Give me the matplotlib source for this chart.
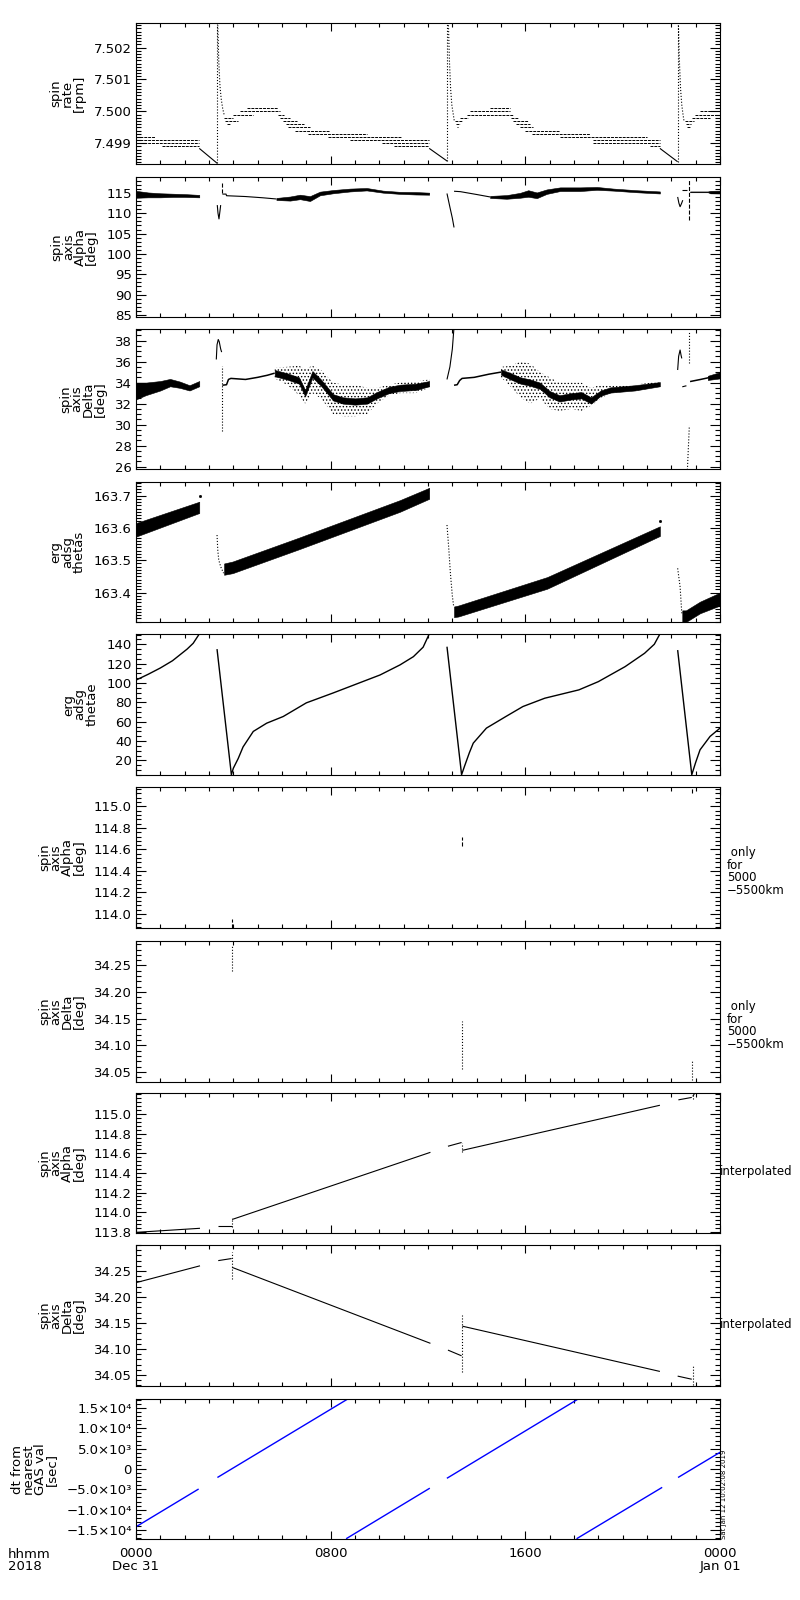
import matplotlib
matplotlib.use("Agg")
import matplotlib.pyplot as plt
from matplotlib.ticker import MultipleLocator, FixedLocator, FormatStrFormatter, FixedFormatter

plt.rcParams['font.family'] = ['DejaVu Sans']
plt.rcParams['hatch.linewidth'] = 0.6

# ---------------- axis texts ----------------
x_ticks = [0, 8, 16, 24]
x_ticklabels = ["0000\nDec 31", "0800", "1600", "0000\nJan 01"]
x_corner_label = "hhmm\n2018"
timestamp = "Sat Jan 12 10:02:08 2019"

ylabels = ["spin\nrate\n[rpm]", "spin\naxis\nAlpha\n[deg]", "spin\naxis\nDelta\n[deg]",
           "erg\nadsg\nthetas", "erg\nadsg\nthetae", "spin\naxis\nAlpha\n[deg]",
           "spin\naxis\nDelta\n[deg]", "spin\naxis\nAlpha\n[deg]", "spin\naxis\nDelta\n[deg]",
           "dt from\nnearest\nGAS val\n[sec]"]
right_notes = ["", "", "", "", "", " only\nfor\n5000\n\u22125500km", " only\nfor\n5000\n\u22125500km",
               "interpolated", "interpolated", ""]

# ---------------- panel 1: spin rate [rpm] (quantised levels, hours) ----------------
rate_lvl_t0 = [0.00, 0.00, 0.00, 1.05, 3.61, 3.65, 3.72, 4.00, 4.27, 4.55, 5.85, 5.92, 6.05, 6.15, 6.26,
               6.53, 7.08, 7.90, 8.79, 10.10, 10.60,
               13.10, 13.14, 13.18, 13.30, 13.60, 13.73, 14.55, 15.40, 15.50, 15.60, 15.78, 16.00, 16.26,
               17.43, 18.80, 18.80, 21.12,
               22.55, 22.60, 22.65, 22.85, 22.97, 23.18]
rate_lvl_t1 = [0.78, 2.60, 2.60, 2.60, 4.00, 4.20, 3.86, 4.82, 5.92, 5.85, 6.10, 6.33, 6.60, 6.90, 7.15,
               7.97, 9.48, 10.90, 12.05, 12.05, 12.05,
               13.38, 13.30, 13.25, 13.66, 15.51, 15.37, 15.37, 15.70, 16.10, 16.20, 16.33, 17.43, 18.66,
               20.99, 21.53, 21.53, 21.53,
               22.95, 22.80, 22.75, 23.60, 24.00, 24.00]
rate_lvl_v = [7.4992, 7.4991, 7.4990, 7.4989, 7.4998, 7.4997, 7.4996, 7.4999, 7.5000, 7.5001, 7.4999,
              7.4998, 7.4997, 7.4996, 7.4995, 7.4994, 7.4993, 7.4992, 7.4991, 7.4990, 7.4989,
              7.4997, 7.4996, 7.4995, 7.4998, 7.4999, 7.5000, 7.5001, 7.4998, 7.4997, 7.4996, 7.4995,
              7.4994, 7.4993, 7.4992, 7.4991, 7.4990, 7.4989,
              7.4997, 7.4996, 7.4995, 7.4998, 7.4999, 7.5000]
rate_dec_t = [[2.60, 3.34], [12.05, 12.79], [21.53, 22.26]]
rate_dec_v = [[7.49884, 7.49837], [7.49884, 7.49844], [7.49884, 7.49842]]
rate_spike_t = [3.34, 12.79, 22.26]
rate_spike_lo = [7.49837, 7.49844, 7.49842]
rate_spike_hi = [7.50275, 7.50275, 7.50275]
rate_decay_t = [[3.36, 3.40, 3.45, 3.50, 3.56, 3.62],
                [12.84, 12.88, 12.93, 12.98, 13.04, 13.08],
                [22.29, 22.33, 22.38, 22.43, 22.48, 22.52]]
rate_decay_v = [[7.50270, 7.50160, 7.50080, 7.50040, 7.50010, 7.49990],
                [7.50270, 7.50160, 7.50070, 7.50020, 7.49990, 7.49970],
                [7.50270, 7.50160, 7.50070, 7.50020, 7.49990, 7.49970]]

# ---------------- panel 2: spin axis Alpha [deg] ----------------
alp_b1_t = [0.0, 0.5, 1.0, 1.5, 2.0, 2.6]
alp_b1_lo = [113.8, 113.9, 113.9, 114.0, 114.0, 113.9]
alp_b1_hi = [115.5, 115.1, 114.9, 114.8, 114.7, 114.5]
alp_v1_t = [3.34, 3.37, 3.41, 3.45, 3.48]
alp_v1_v = [112.0, 110.0, 108.6, 110.5, 112.0]
alp_l1_t = [3.55, 3.70, 3.72, 4.5, 5.2, 5.77]
alp_l1_v = [114.7, 114.7, 114.3, 114.1, 113.8, 113.5]
alp_b2_t = [5.77, 6.33, 6.74, 7.15, 7.56, 8.1, 8.8, 9.48, 10.15, 10.85, 11.5, 12.05]
alp_b2_lo = [113.25, 113.1, 113.45, 113.0, 114.4, 114.9, 115.35, 115.6, 115.05, 114.75, 114.6, 114.55]
alp_b2_hi = [113.75, 114.1, 114.55, 114.2, 115.3, 115.7, 116.05, 116.2, 115.55, 115.25, 115.2, 115.05]
alp_f2_t = [12.78, 12.90, 13.00, 13.07]
alp_f2_v = [114.85, 111.5, 108.8, 106.5]
alp_l2_t = [13.07, 13.33, 14.0, 14.55]
alp_l2_v = [115.4, 115.3, 114.6, 114.0]
alp_b3_t = [14.55, 15.23, 15.78, 16.12, 16.47, 16.88, 17.43, 18.25, 18.94, 19.62, 20.58, 21.53]
alp_b3_lo = [113.75, 113.55, 113.8, 114.05, 113.7, 114.75, 115.45, 115.45, 115.75, 115.55, 115.15, 114.85]
alp_b3_hi = [114.25, 114.45, 115.0, 115.65, 115.1, 115.85, 116.35, 116.35, 116.45, 116.05, 115.65, 115.35]
alp_v3_t = [22.26, 22.31, 22.36, 22.42, 22.47]
alp_v3_v = [114.0, 112.5, 111.6, 112.4, 113.2]
alp_s3_t = [22.43, 22.66]
alp_s3_v = [115.8, 115.8]
alp_b4_t = [22.77, 23.5, 23.6, 24.0]
alp_b4_lo = [115.15, 115.15, 114.9, 114.85]
alp_b4_hi = [115.35, 115.35, 115.5, 115.55]
alp_vert_t = [3.55, 22.73]
alp_vert_lo = [114.9, 108.3]
alp_vert_hi = [117.5, 118.5]

# ---------------- panel 3: spin axis Delta [deg] ----------------
del_b1_t = [0.0, 0.4, 1.0, 1.4, 1.8, 2.2, 2.6]
del_b1_lo = [32.4, 32.8, 33.25, 33.65, 33.5, 33.25, 33.65]
del_b1_hi = [34.0, 34.0, 34.15, 34.35, 34.1, 33.75, 34.15]
del_p1_t = [3.30, 3.33, 3.38, 3.42, 3.48, 3.52]
del_p1_v = [36.2, 37.6, 38.1, 37.9, 37.2, 36.9]
del_l1_t = [3.55, 3.72, 3.80, 3.90, 4.5, 5.0, 5.4, 5.7]
del_l1_v = [33.75, 33.8, 34.3, 34.4, 34.3, 34.5, 34.7, 34.9]
del_n1_t = [5.7, 6.2, 6.7, 6.95, 7.25, 7.6, 8.1, 8.5, 9.0, 9.5, 9.9, 10.4, 10.85, 11.5, 12.05]
del_n1_lo = [34.6, 34.3, 33.9, 32.7, 34.5, 33.7, 32.3, 32.0, 31.9, 32.0, 32.5, 33.0, 33.2, 33.3, 33.65]
del_n1_hi = [35.2, 34.9, 34.5, 33.3, 35.1, 34.3, 32.9, 32.6, 32.5, 32.6, 33.1, 33.6, 33.8, 33.9, 34.15]
del_s1_lo = [34.4, 33.8, 32.8, 32.0, 33.0, 32.5, 31.0, 30.8, 30.8, 31.0, 32.0, 32.8, 33.0, 33.0, 33.5]
del_s1_hi = [35.4, 35.5, 35.6, 35.3, 35.6, 35.2, 34.0, 33.8, 33.8, 33.5, 33.5, 33.8, 34.0, 34.1, 34.3]
del_r2_t = [12.78, 12.9, 13.0, 13.07]
del_r2_v = [34.3, 35.5, 37.2, 39.3]
del_l2_t = [13.07, 13.2, 13.3, 13.4, 13.9, 14.5, 15.0]
del_l2_v = [33.75, 33.8, 34.2, 34.4, 34.5, 34.8, 35.0]
del_n2_t = [15.0, 15.4, 15.8, 16.2, 16.6, 17.0, 17.4, 17.9, 18.3, 18.7, 19.1, 19.5, 20.5, 21.53]
del_n2_lo = [34.75, 34.3, 33.9, 33.7, 33.4, 32.6, 32.2, 32.4, 32.5, 32.0, 32.75, 33.05, 33.25, 33.65]
del_n2_hi = [35.25, 34.9, 34.5, 34.3, 34.0, 33.2, 32.8, 33.0, 33.1, 32.6, 33.25, 33.55, 33.75, 34.05]
del_s2_lo = [34.5, 33.6, 32.6, 32.0, 32.5, 31.5, 31.3, 31.5, 31.3, 31.8, 32.5, 33.0, 33.2, 33.6]
del_s2_hi = [35.5, 35.6, 36.0, 35.8, 35.0, 34.5, 34.0, 34.0, 34.0, 33.5, 33.8, 33.7, 33.8, 34.1]
del_p3_t = [22.26, 22.30, 22.36, 22.40, 22.43]
del_p3_v = [35.2, 36.5, 37.1, 36.6, 36.3]
del_s3_t = [22.45, 22.62]
del_s3_v = [33.6, 33.7]
del_r3_t = [22.66, 22.74]
del_r3_v = [25.7, 29.9]
del_l3_t = [22.77, 23.2, 23.6, 24.0]
del_l3_v = [34.1, 34.3, 34.5, 34.7]
del_b3_t = [23.5, 24.0]
del_b3_lo = [34.25, 34.4]
del_b3_hi = [34.65, 35.0]
del_vert_t = [3.55, 22.73]
del_vert_lo = [29.4, 35.9]
del_vert_hi = [35.6, 38.8]

# ---------------- panel 4: erg adsg thetas ----------------
ths_b1_t = [0.0, 2.6]
ths_b1_lo = [163.573, 163.646]
ths_b1_hi = [163.615, 163.681]
ths_dot_t = [2.62, 21.55]
ths_dot_v = [163.700, 163.620]
ths_d1_t = [3.33, 3.36, 3.40, 3.48, 3.60]
ths_d1_v = [163.578, 163.532, 163.501, 163.480, 163.460]
ths_b2_t = [3.62, 3.97, 6.7, 10.85, 12.05]
ths_b2_lo = [163.455, 163.460, 163.534, 163.650, 163.690]
ths_b2_hi = [163.490, 163.496, 163.570, 163.686, 163.724]
ths_d2_t = [12.78, 12.85, 12.92, 13.0, 13.05]
ths_d2_v = [163.609, 163.540, 163.460, 163.390, 163.360]
ths_b3_t = [13.07, 13.25, 16.9, 21.53]
ths_b3_lo = [163.324, 163.326, 163.412, 163.575]
ths_b3_hi = [163.357, 163.360, 163.448, 163.605]
ths_d3_t = [22.26, 22.36, 22.43]
ths_d3_v = [163.475, 163.418, 163.336]
ths_b4_t = [22.45, 22.6, 23.18, 24.0]
ths_b4_lo = [163.310, 163.309, 163.336, 163.360]
ths_b4_hi = [163.345, 163.345, 163.372, 163.400]

# ---------------- panel 5: erg adsg thetae ----------------
the_o1a_t = [0.0, 0.5, 1.0, 1.5, 1.8, 2.1, 2.35, 2.6]
the_o1a_v = [103.0, 109.0, 115.5, 123.0, 129.0, 135.0, 141.0, 150.6]
the_o1b_t = [3.33, 3.92, 4.0, 4.2, 4.4, 4.82, 5.37, 6.05, 7.0, 8.1, 9.5, 10.03, 10.85, 11.4, 11.8, 12.05]
the_o1b_v = [135.0, 5.3, 12.0, 22.0, 34.0, 50.0, 58.5, 65.4, 79.5, 89.7, 103.2, 108.3, 118.7, 127.2, 137.0, 150.6]
the_o2_t = [12.78, 13.38, 13.5, 13.7, 13.86, 14.4, 15.2, 15.9, 16.8, 18.2, 19.0, 20.1, 20.9, 21.3, 21.53]
the_o2_v = [137.5, 5.3, 14.0, 28.0, 37.9, 53.4, 65.4, 75.7, 84.3, 92.9, 101.4, 116.9, 130.7, 140.0, 150.6]
the_o3_t = [22.26, 22.84, 23.0, 23.18, 23.59, 24.0]
the_o3_v = [134.0, 5.3, 18.0, 31.0, 44.8, 53.4]

# ---------------- panels 6/7: only for 5000-5500 km ----------------
alp_only_t = [3.95, 13.40, 22.86]
alp_only_lo = [113.87, 114.63, 115.12]
alp_only_hi = [113.95, 114.72, 115.17]
del_only_t = [3.95, 13.40, 22.86]
del_only_lo = [34.239, 34.055, 34.035]
del_only_hi = [34.288, 34.145, 34.070]

# ---------------- panels 8/9: interpolated ----------------
alp_int_t = [[0.03, 2.63], [3.38, 3.93], [3.95, 12.10], [12.82, 13.38], [13.41, 21.53], [22.29, 22.84], [22.88, 23.0]]
alp_int_v = [[113.794, 113.835], [113.858, 113.858], [113.925, 114.61], [114.672, 114.71],
             [114.63, 115.09], [115.145, 115.17], [115.18, 115.23]]
alp_int_jt = [3.95, 13.41, 22.88]
alp_int_jlo = [113.85, 114.61, 115.15]
alp_int_jhi = [113.935, 114.71, 115.23]
del_int_t = [[0.03, 2.63], [3.38, 3.93], [3.95, 12.10], [12.82, 13.38], [13.41, 21.53], [22.26, 22.84]]
del_int_v = [[34.228, 34.26], [34.27, 34.274], [34.257, 34.111], [34.098, 34.087],
             [34.144, 34.057], [34.048, 34.042]]
del_int_jt = [3.95, 13.41, 22.87]
del_int_jlo = [34.235, 34.056, 34.031]
del_int_jhi = [34.287, 34.165, 34.070]

# ---------------- panel 10: dt from nearest GAS val [sec] ----------------
dt_t = [[0.0, 2.55], [3.37, 8.66], [8.66, 12.05], [12.80, 18.13], [18.13, 21.60], [22.30, 24.0]]
dt_v = [[-14200, -5000], [-2000, 17050], [-17050, -4800], [-2200, 17050], [-17050, -4600], [-2000, 4100]]
dt_ticks = [-15000, -10000, -5000, 0, 5000, 10000, 15000]
dt_ticklabels = ["\u22121.5\u00d710\u2074", "\u22121.0\u00d710\u2074", "\u22125.0\u00d710\u00b3", "0",
                 "5.0\u00d710\u00b3", "1.0\u00d710\u2074", "1.5\u00d710\u2074"]

# ---------------- layout ----------------
W, H = 800.0, 1600.0
tops = [23, 177, 329, 482, 634, 787, 941, 1093, 1245, 1399]
bots = [164, 317, 469, 622, 775, 928, 1082, 1233, 1386, 1539]
XL, XR = 136, 720
ylims = [(7.49835, 7.50277), (84.5, 118.9), (25.78, 39.1), (163.309, 163.742), (5.0, 150.6),
         (113.87, 115.18), (34.031, 34.296), (113.787, 115.215), (34.029, 34.30), (-17200, 17200)]

fig = plt.figure(figsize=(8, 16), dpi=100)
axes = []
for i in range(10):
    ax = fig.add_axes([XL / W, 1 - bots[i] / H, (XR - XL) / W, (bots[i] - tops[i]) / H])
    axes.append(ax)

K = 'k'
LW = 0.8

def line(ax, t, v, **kw):
    ax.plot(t, v, color=K, lw=kw.pop('lw', LW), solid_capstyle='butt', **kw)

def band(ax, t, lo, hi, **kw):
    ax.fill_between(t, lo, hi, color=K, lw=0.4, **kw)

def scatter_band(ax, t, lo, hi):
    ax.fill_between(t, lo, hi, facecolor='none', edgecolor=K, hatch='.....', lw=0)

# ---- panel 1
ax = axes[0]
ax.hlines(rate_lvl_v, rate_lvl_t0, rate_lvl_t1, colors=K, lw=0.7, linestyles=[(0, (3, 1))])
for t, v in zip(rate_dec_t, rate_dec_v):
    line(ax, t, v)
ax.vlines(rate_spike_t, rate_spike_lo, rate_spike_hi, colors=K, lw=0.8, linestyles='dotted')
for t, v in zip(rate_decay_t, rate_decay_v):
    line(ax, t, v, ls=':')

# ---- panel 2
ax = axes[1]
band(ax, alp_b1_t, alp_b1_lo, alp_b1_hi)
line(ax, alp_v1_t, alp_v1_v)
line(ax, alp_l1_t, alp_l1_v)
band(ax, alp_b2_t, alp_b2_lo, alp_b2_hi)
line(ax, alp_f2_t, alp_f2_v)
line(ax, alp_l2_t, alp_l2_v)
band(ax, alp_b3_t, alp_b3_lo, alp_b3_hi)
line(ax, alp_v3_t, alp_v3_v)
line(ax, alp_s3_t, alp_s3_v)
band(ax, alp_b4_t, alp_b4_lo, alp_b4_hi)
ax.vlines(alp_vert_t, alp_vert_lo, alp_vert_hi, colors=K, lw=0.8, linestyles='dashed')

# ---- panel 3
ax = axes[2]
band(ax, del_b1_t, del_b1_lo, del_b1_hi)
line(ax, del_p1_t, del_p1_v)
line(ax, del_l1_t, del_l1_v, lw=1.1)
scatter_band(ax, del_n1_t, del_s1_lo, del_s1_hi)
band(ax, del_n1_t, del_n1_lo, del_n1_hi)
line(ax, del_r2_t, del_r2_v)
line(ax, del_l2_t, del_l2_v, lw=1.1)
scatter_band(ax, del_n2_t, del_s2_lo, del_s2_hi)
band(ax, del_n2_t, del_n2_lo, del_n2_hi)
line(ax, del_p3_t, del_p3_v)
line(ax, del_s3_t, del_s3_v)
line(ax, del_r3_t, del_r3_v, ls=':')
line(ax, del_l3_t, del_l3_v, lw=1.1)
band(ax, del_b3_t, del_b3_lo, del_b3_hi)
ax.vlines(del_vert_t, del_vert_lo, del_vert_hi, colors=K, lw=0.8, linestyles='dotted')

# ---- panel 4
ax = axes[3]
band(ax, ths_b1_t, ths_b1_lo, ths_b1_hi)
ax.plot(ths_dot_t, ths_dot_v, 's', color=K, ms=1.0)
line(ax, ths_d1_t, ths_d1_v, ls=':')
band(ax, ths_b2_t, ths_b2_lo, ths_b2_hi)
line(ax, ths_d2_t, ths_d2_v, ls=':')
band(ax, ths_b3_t, ths_b3_lo, ths_b3_hi)
line(ax, ths_d3_t, ths_d3_v, ls=':')
band(ax, ths_b4_t, ths_b4_lo, ths_b4_hi)

# ---- panel 5
ax = axes[4]
for t, v in [(the_o1a_t, the_o1a_v), (the_o1b_t, the_o1b_v), (the_o2_t, the_o2_v), (the_o3_t, the_o3_v)]:
    line(ax, t, v, lw=1.0)

# ---- panels 6/7
axes[5].vlines(alp_only_t, alp_only_lo, alp_only_hi, colors=K, lw=0.8, linestyles='dashed')
axes[6].vlines(del_only_t, del_only_lo, del_only_hi, colors=K, lw=0.8, linestyles='dotted')

# ---- panels 8/9
for t, v in zip(alp_int_t, alp_int_v):
    line(axes[7], t, v)
axes[7].vlines(alp_int_jt, alp_int_jlo, alp_int_jhi, colors=K, lw=0.8, linestyles='dotted')
for t, v in zip(del_int_t, del_int_v):
    line(axes[8], t, v)
axes[8].vlines(del_int_jt, del_int_jlo, del_int_jhi, colors=K, lw=0.8, linestyles='dotted')

# ---- panel 10
for t, v in zip(dt_t, dt_v):
    axes[9].plot(t, v, color='#0000ff', lw=1.0)

# ---------------- axes styling ----------------
ymaj = [FixedLocator([7.499, 7.500, 7.501, 7.502]), MultipleLocator(5), MultipleLocator(2),
        FixedLocator([163.4, 163.5, 163.6, 163.7]), MultipleLocator(20),
        FixedLocator([114.0, 114.2, 114.4, 114.6, 114.8, 115.0]),
        FixedLocator([34.05, 34.10, 34.15, 34.20, 34.25]),
        FixedLocator([113.8, 114.0, 114.2, 114.4, 114.6, 114.8, 115.0]),
        FixedLocator([34.05, 34.10, 34.15, 34.20, 34.25]),
        FixedLocator(dt_ticks)]
ymin = [0.0001, 1, 0.5, 0.01, 5, 0.04, 0.01, 0.04, 0.01, 1000]
yfmt = ['%.3f', '%d', '%d', '%.1f', '%d', '%.1f', '%.2f', '%.1f', '%.2f', None]

for i, ax in enumerate(axes):
    ax.set_xlim(0, 24)
    ax.set_ylim(*ylims[i])
    ax.xaxis.set_major_locator(FixedLocator(x_ticks))
    ax.xaxis.set_minor_locator(MultipleLocator(1))
    ax.yaxis.set_major_locator(ymaj[i])
    ax.yaxis.set_minor_locator(MultipleLocator(ymin[i]))
    if yfmt[i]:
        ax.yaxis.set_major_formatter(FormatStrFormatter(yfmt[i]))
    else:
        ax.yaxis.set_major_formatter(FixedFormatter(dt_ticklabels))
    ax.tick_params(axis='x', which='major', direction='in', length=6, width=0.8, top=True, bottom=True)
    ax.tick_params(axis='x', which='minor', direction='in', length=3, width=0.8, top=True, bottom=True)
    ax.tick_params(axis='y', which='major', direction='in', length=7.2, width=0.8, left=True, right=True,
                   labelsize=9.5, pad=3)
    ax.tick_params(axis='y', which='minor', direction='in', length=3.6, width=0.8, left=True, right=True)
    for s in ax.spines.values():
        s.set_linewidth(0.8)
    ax.set_ylabel(ylabels[i], fontsize=9.5, linespacing=0.85, labelpad=6)
    if i < 9:
        ax.tick_params(axis='x', labelbottom=False)
    if right_notes[i]:
        yc = (tops[i] + bots[i]) / 2.0 + (14 if i in (5, 6) else 9)
        xr = 727 if i in (5, 6) else 720
        fig.text(xr / W, 1 - yc / H, right_notes[i], ha='left', va='center', fontsize=8.5, linespacing=0.95)

axb = axes[9]
axb.set_xticklabels(x_ticklabels)
axb.tick_params(axis='x', which='major', labelsize=9.5, pad=6)
for lab in axb.get_xticklabels():
    lab.set_linespacing(0.95)

fig.text(8 / W, 1 - 1548 / H, x_corner_label, ha='left', va='top', fontsize=9.5, linespacing=0.95)
fig.text(721 / W, 1 - 1539 / H, timestamp, rotation=90, ha='left', va='bottom', fontsize=5)

fig.savefig('out.png', dpi=100)
